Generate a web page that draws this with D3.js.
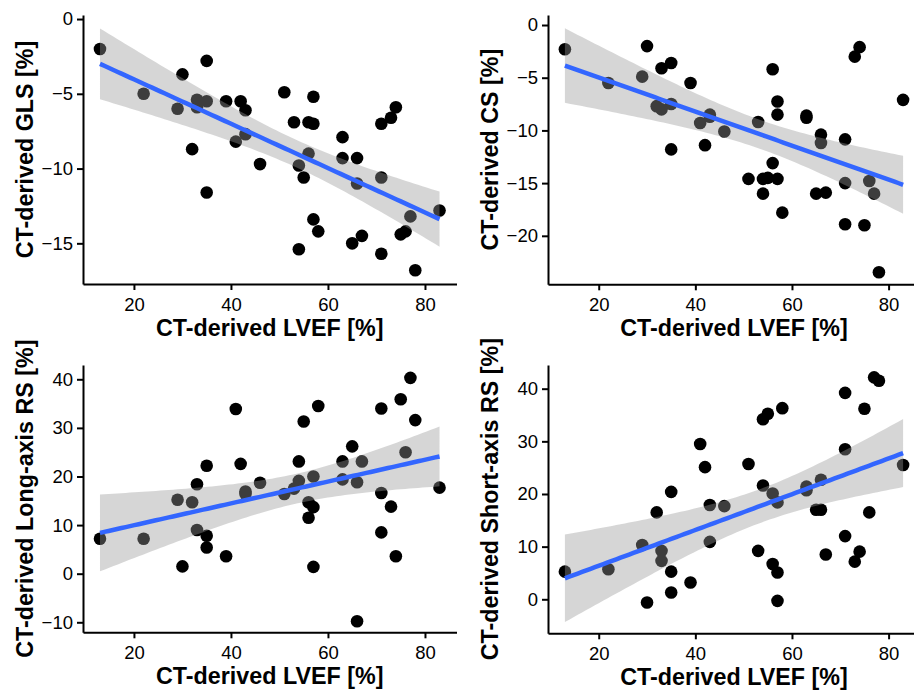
<!DOCTYPE html>
<html>
<head>
<meta charset="utf-8">
<script src="https://cdnjs.cloudflare.com/ajax/libs/d3/7.8.5/d3.min.js"></script>
<style>
body{margin:0;background:#fff;}
svg{display:block;font-family:"Liberation Sans",Arial,Helvetica,sans-serif;}
.axis path,.axis line{stroke:#000;stroke-width:2px;}
.axis text{fill:#000;font-size:18.5px;font-family:"Liberation Sans",Arial,Helvetica,sans-serif;}
.title{font-size:23.3px;font-weight:bold;fill:#000;}
</style>
</head>
<body>
<script>

// values (x = CT-derived LVEF [%])
var lvefGLS = [13,22,30,29,33,33,35,35,32,35,39,42,43,41,43,46,51,53,54,55,54,56,57,57,56,57,58,63,63,66,66,65,67,71,71,71,73,74,75,76,77,78,83];
var gls     = [-2.0,-5.0,-3.7,-6.0,-5.4,-5.9,-5.5,-2.8,-8.7,-11.6,-5.5,-5.5,-6.1,-8.2,-7.7,-9.7,-4.9,-6.9,-9.8,-10.6,-15.4,-6.9,-7.0,-5.2,-9.0,-13.4,-14.2,-7.9,-9.3,-9.3,-11.0,-15.0,-14.5,-7.0,-10.6,-15.7,-6.6,-5.9,-14.4,-14.2,-13.2,-16.8,-12.8];

var lvefCS = [13,22,30,29,33,35,32,33,35,35,39,41,43,43,42,46,51,53,54,55,54,57,56,56,57,57,58,63,63,66,66,65,67,71,71,71,73,74,75,76,77,78,83];
var cs     = [-2.3,-5.5,-2.0,-4.9,-4.1,-3.6,-7.7,-8.0,-7.5,-11.8,-5.5,-9.3,-8.7,-8.5,-11.4,-10.1,-14.6,-9.2,-14.6,-14.5,-16.0,-14.6,-13.1,-4.2,-7.25,-8.5,-17.8,-8.6,-8.8,-10.4,-11.2,-16.0,-15.9,-10.85,-15.0,-18.9,-3.0,-2.1,-19.0,-14.8,-16.0,-23.45,-7.1];

var lvefLA = [13,22,29,30,32,33,33,35,35,35,39,41,42,43,43,46,51,53,54,54,55,56,56,57,57,57,58,63,63,65,66,66,67,71,71,71,73,74,75,76,77,78,83];
var longRS = [7.2,7.2,15.2,1.5,14.7,18.4,9.0,22.2,7.8,5.4,3.6,33.9,22.6,16.9,16.4,18.7,16.4,17.5,23.1,19.1,31.3,14.7,11.5,13.7,20.0,1.4,34.5,23.1,19.4,26.2,18.8,-9.8,23.1,34.0,16.6,8.5,13.8,3.6,35.9,25.0,40.3,31.6,17.7];

var lvefSA = [13,22,29,30,32,33,33,35,35,35,39,41,42,43,43,46,51,53,54,55,54,56,57,56,57,57,58,63,63,66,65,66,67,71,71,71,73,74,75,76,77,78,83];
var shortRS = [5.25,5.7,10.3,-0.6,16.5,9.2,7.3,20.4,5.25,1.3,3.2,29.5,25.1,17.9,10.9,17.7,25.7,9.2,34.2,35.25,21.6,20.1,18.4,6.7,5.1,-0.3,36.3,21.4,20.7,22.7,17.0,17.0,8.5,39.2,28.5,12.0,7.15,9.05,36.2,16.5,42.15,41.5,25.5];

var xTicks = [20,40,60,80];
var glsTicks = [0,-5,-10,-15];
var csTicks = [0,-5,-10,-15,-20];
var longTicks = [-10,0,10,20,30,40];
var shortTicks = [0,10,20,30,40];

var W = 914, H = 691;

var svg = d3.select("body").append("svg")
	.attr("width", W).attr("height", H);
svg.append("rect").attr("width", W).attr("height", H).attr("fill", "#fff");

// two-sided 95% t quantile (Cornish-Fisher approx), like geom_smooth(method="lm")
function tq(df){
	var z = 1.959964;
	return z + (Math.pow(z,3)+z)/(4*df) + (5*Math.pow(z,5)+16*Math.pow(z,3)+3*z)/(96*df*df);
}

function lmFit(xs, ys){
	var n = xs.length,
		mx = d3.mean(xs), my = d3.mean(ys),
		sxx = d3.sum(xs, function(v){return (v-mx)*(v-mx);}),
		sxy = d3.sum(xs, function(v,i){return (v-mx)*(ys[i]-my);});
	var b = sxy/sxx, a = my - b*mx;
	var sse = d3.sum(xs, function(v,i){var r = ys[i]-(a+b*v); return r*r;});
	var s = Math.sqrt(sse/(n-2)), t = tq(n-2);
	var lo = d3.min(xs), hi = d3.max(xs);
	var pts = d3.range(80).map(function(k){
		var x0 = lo + (hi-lo)*k/79,
			fit = a + b*x0,
			se = s*Math.sqrt(1/n + (x0-mx)*(x0-mx)/sxx);
		return {x:x0, y:fit, lo:fit - t*se, hi:fit + t*se};
	});
	return pts;
}

function panel(xs, ys, opt){
	var g = svg.append("g");

	var x = d3.scaleLinear().domain([9.5, 86.5]).range([opt.left, opt.right]);
	var y = d3.scaleLinear().domain(opt.yDomain).range([opt.bottom, opt.top]);

	// points first, ribbon on top (greys the points underneath), then the line
	g.selectAll(".dot")
		.data(xs)
		.enter().append("circle")
		.attr("class", "dot")
		.attr("cx", function(d){return x(d);})
		.attr("cy", function(d,i){return y(ys[i]);})
		.attr("r", 6.3)
		.attr("fill", "#000");

	var fit = lmFit(xs, ys);

	g.append("path")
		.datum(fit)
		.attr("fill", "#999999")
		.attr("fill-opacity", 0.4)
		.attr("d", d3.area()
			.x(function(d){return x(d.x);})
			.y0(function(d){return y(d.lo);})
			.y1(function(d){return y(d.hi);}));

	g.append("path")
		.datum(fit)
		.attr("fill", "none")
		.attr("stroke", "#3366FF")
		.attr("stroke-width", 4.5)
		.attr("d", d3.line()
			.x(function(d){return x(d.x);})
			.y(function(d){return y(d.y);}));

	g.append("g")
		.attr("class", "axis")
		.attr("transform", "translate(0," + opt.bottom + ")")
		.call(d3.axisBottom(x).tickValues(xTicks).tickSize(6).tickSizeOuter(0).tickPadding(8));

	g.append("g")
		.attr("class", "axis")
		.attr("transform", "translate(" + opt.left + ",0)")
		.call(d3.axisLeft(y).tickValues(opt.yTicks).tickSize(6).tickSizeOuter(0).tickPadding(4));

	g.append("text")
		.attr("class", "title")
		.attr("x", (opt.left + opt.right)/2)
		.attr("y", opt.bottom + 52)
		.attr("text-anchor", "middle")
		.text("CT-derived LVEF [%]");

	g.append("text")
		.attr("class", "title")
		.attr("transform", "translate(" + (opt.left - 50) + "," + ((opt.top + opt.bottom)/2) + ") rotate(-90)")
		.attr("text-anchor", "middle")
		.text(opt.yLabel);
}

panel(lvefGLS, gls, {left:83, right:456.5, top:15, bottom:284, yDomain:[-17.72, 0.27], yTicks:glsTicks, yLabel:"CT-derived GLS [%]"});
panel(lvefCS, cs, {left:548, right:920, top:15, bottom:284.3, yDomain:[-24.6, 0.95], yTicks:csTicks, yLabel:"CT-derived CS [%]"});
panel(lvefLA, longRS, {left:83, right:456.5, top:365, bottom:632.3, yDomain:[-12.06, 42.94], yTicks:longTicks, yLabel:"CT-derived Long-axis RS [%]"});
panel(lvefSA, shortRS, {left:548, right:920, top:365, bottom:633.3, yDomain:[-6.46, 44.5], yTicks:shortTicks, yLabel:"CT-derived Short-axis RS [%]"});

</script>
</body>
</html>
